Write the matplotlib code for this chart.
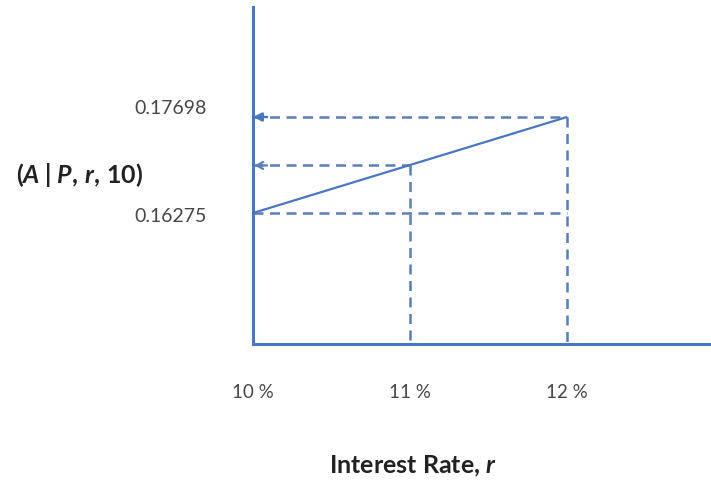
import matplotlib
matplotlib.use("Agg")
import matplotlib.pyplot as plt

rates = [10, 11, 12]
factors = [0.16275, 0.16980, 0.17698]
xtick_labels = ["10 %", "11 %", "12 %"]
ytick_values = [0.17698, 0.16275]
ytick_labels = ["0.17698", "0.16275"]

plt.rcParams['font.family'] = ['Lato', 'DejaVu Sans']
plt.rcParams['mathtext.fontset'] = 'custom'
plt.rcParams['mathtext.rm'] = 'Lato:bold'
plt.rcParams['mathtext.it'] = 'Lato:bold:italic'
plt.rcParams['mathtext.bf'] = 'Lato:bold'

line_c = '#4a76c0'
dash_c = '#5b7db9'
text_c = '#474747'

fig = plt.figure(figsize=(7.11, 4.85), dpi=100)
ax = fig.add_axes([253/711, 140/485, 1 - 253/711, (477 - 140)/485])
ax.set_xlim(10, 12.917)
ax.set_ylim(0.14333, 0.19329)

for s in ['top', 'right']:
    ax.spines[s].set_visible(False)
for s in ['left', 'bottom']:
    ax.spines[s].set_color(line_c)
    ax.spines[s].set_linewidth(2.2)
ax.set_xticks([])
ax.set_yticks([])

# main line
ax.plot([rates[0], rates[2]], [factors[0], factors[2]], color=line_c, lw=1.6,
        solid_capstyle='butt', zorder=3)

dkw = dict(color=dash_c, lw=1.8, dashes=(4, 2.6), zorder=2)
# horizontal dashed lines
ax.plot([rates[0], rates[2]], [factors[2], factors[2]], **dkw)
ax.plot([rates[0], rates[1]], [factors[1], factors[1]], **dkw)
ax.plot([rates[0], rates[2]], [factors[0], factors[0]], **dkw)
# vertical dashed lines
ax.plot([rates[1], rates[1]], [factors[1], ax.get_ylim()[0]], **dkw)
ax.plot([rates[2], rates[2]], [factors[2], ax.get_ylim()[0]], **dkw)

# arrow heads at the axis
ax.annotate('', xy=(rates[0], factors[2]), xytext=(rates[0] + 0.09, factors[2]),
            arrowprops=dict(arrowstyle='-|>,head_length=0.5,head_width=0.25',
                            color=line_c, lw=1.8, shrinkA=0, shrinkB=0))
ax.annotate('', xy=(rates[0] + 0.01, factors[1]), xytext=(rates[0] + 0.09, factors[1]),
            arrowprops=dict(arrowstyle='->,head_length=0.45,head_width=0.25',
                            color=dash_c, lw=1.6, shrinkA=0, shrinkB=0))

# tick labels
for x, lab in zip(rates, xtick_labels):
    ax.annotate(lab, xy=(x, ax.get_ylim()[0]), xytext=(0, -34.5), textcoords='offset points',
                ha='center', va='center', fontsize=13.5, color=text_c, annotation_clip=False)
offsets = [7, -1.5]
for y, lab, off in zip(ytick_values, ytick_labels, offsets):
    ax.annotate(lab, xy=(10, y), xytext=(-33, off), textcoords='offset points',
                ha='right', va='center', fontsize=14, color=text_c, annotation_clip=False)

fig.text(413/711, 1 - 466/485, r'Interest Rate, $\mathit{r}$', ha='center', va='center',
         fontsize=18, fontweight='bold', color='#222222')
fig.text(80/711, 1 - 175/485, r'$(\mathit{A}\;|\;\mathit{P},\,\mathit{r},\,10)$',
         ha='center', va='center', fontsize=18, color='#222222')

fig.savefig('out.png', dpi=100)
